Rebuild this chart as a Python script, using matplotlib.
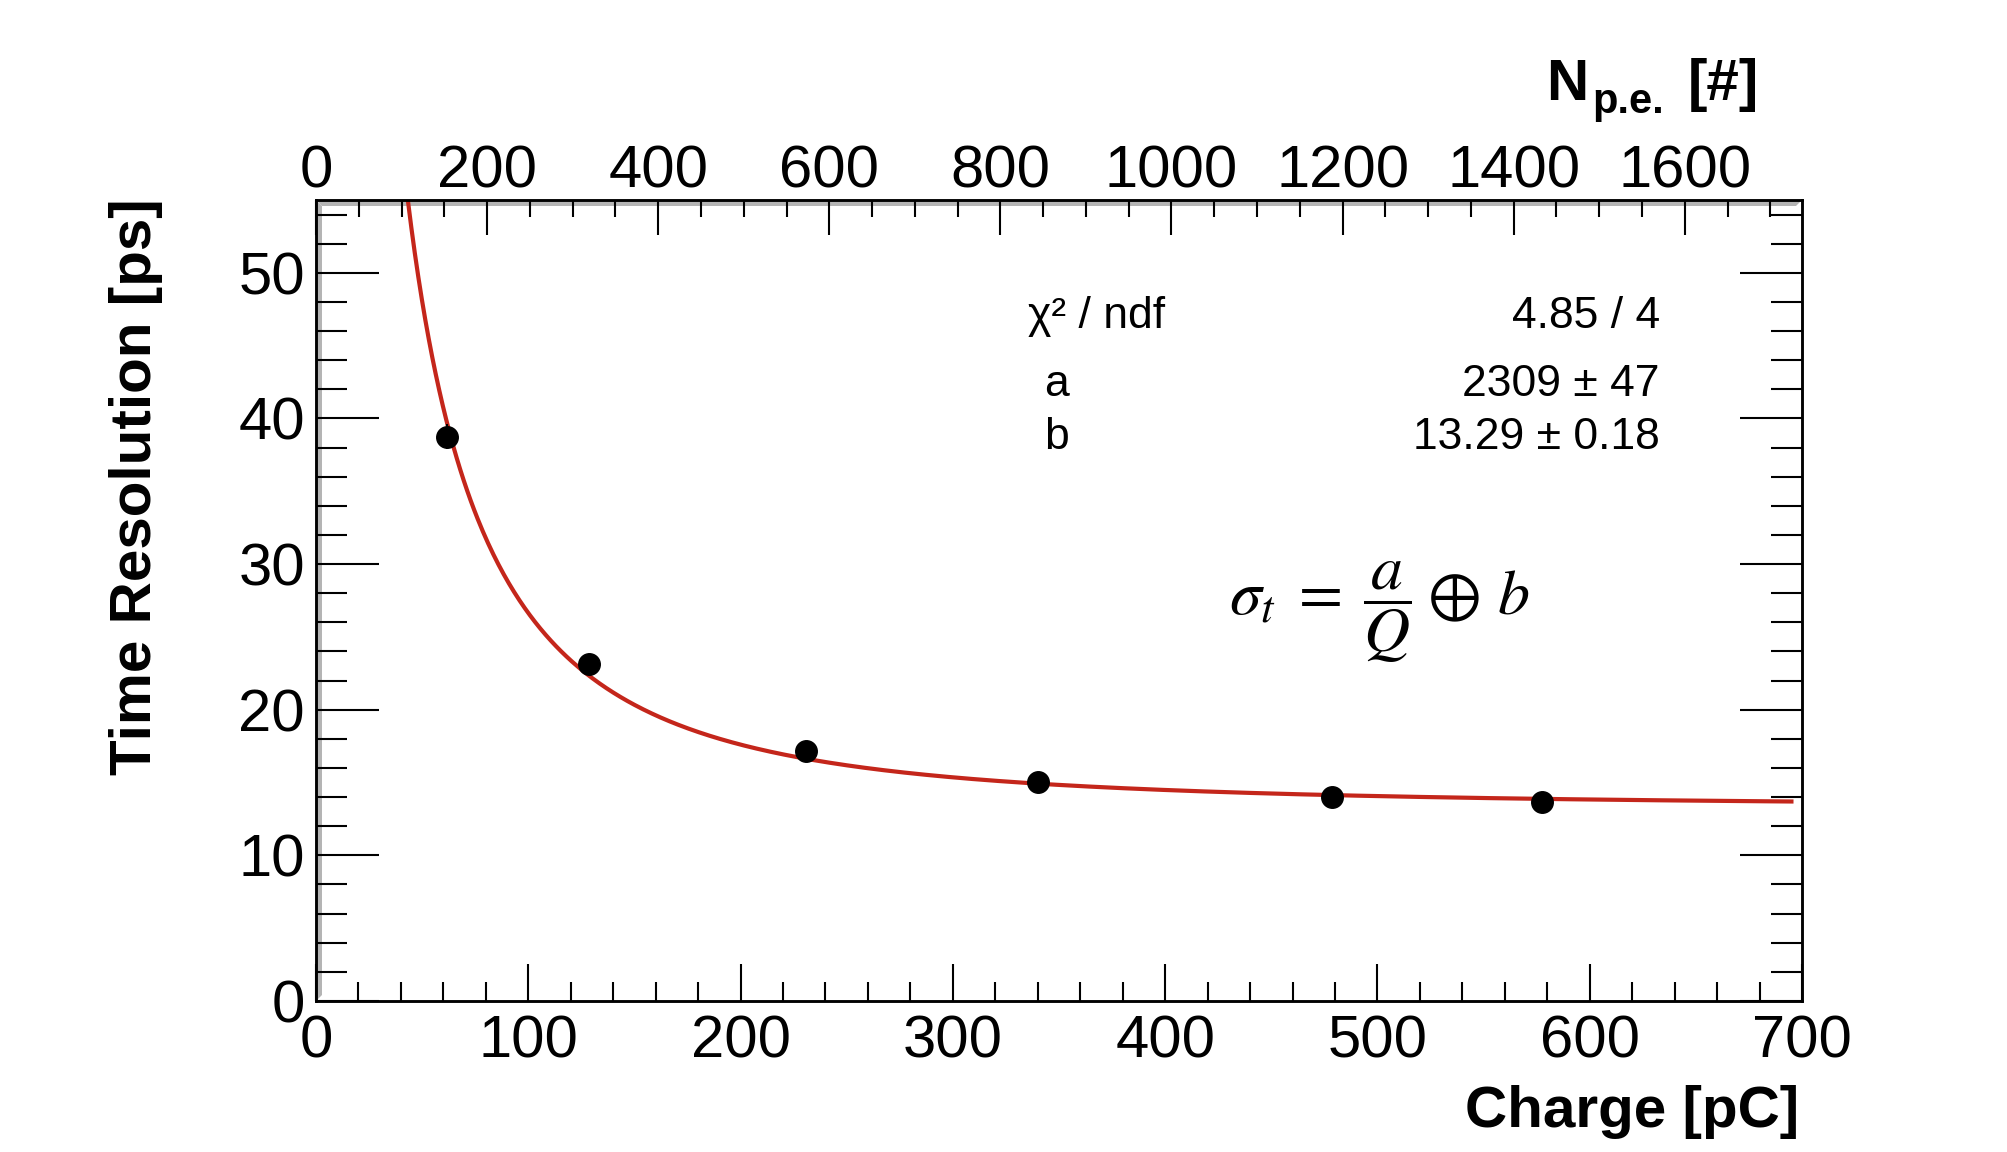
import numpy as np
import matplotlib
matplotlib.use("Agg")
import matplotlib.pyplot as plt
from matplotlib.patches import Polygon
from matplotlib.ticker import MultipleLocator

# ---------------- data ----------------
charge_pc = [61.9, 128.4, 231.0, 340.1, 478.4, 577.4]
time_res_ps = [38.75, 23.16, 17.19, 15.06, 14.03, 13.69]
time_res_err = [0.85, 0.5, 0.4, 0.35, 0.35, 0.35]

fit_a = 2309.0
fit_b = 13.29
fit_range = (40.0, 696.0)

stats_labels = ["χ² / ndf", "a", "b"]
stats_values = ["4.85 / 4", "2309 ± 47", "13.29 ± 0.18"]

x_range = (0, 700)
y_range = (0, 55)
npe_max = 1737.0  # top axis range at x = 700 pC

# ---------------- style ----------------
plt.rcParams['font.family'] = ['Liberation Sans', 'DejaVu Sans']

W, H = 2008, 1152
fig = plt.figure(figsize=(W / 100, H / 100), dpi=100)
x0, x1, y0, y1 = 316, 1802, 151, 952
ax = fig.add_axes([x0 / W, y0 / H, (x1 - x0) / W, (y1 - y0) / H])

ax.set_xlim(*x_range)
ax.set_ylim(*y_range)

TICKFS = 43
LW = 1.8

for s in ax.spines.values():
    s.set_linewidth(LW)
    s.set_zorder(5)

# bevel (gray inner frame shading)
bw = 6
wx = bw / (x1 - x0)
wy = bw / (y1 - y0)
top_band = Polygon([(0, 1), (1, 1), (1 - wx, 1 - wy), (wx, 1 - wy)], closed=True,
                   transform=ax.transAxes, facecolor='#b4b4b4', edgecolor='none', zorder=0.5)
left_band = Polygon([(0, 1), (wx, 1 - wy), (wx, wy), (0, 0)], closed=True,
                    transform=ax.transAxes, facecolor='#b4b4b4', edgecolor='none', zorder=0.5)
ax.add_patch(top_band)
ax.add_patch(left_band)

ax.xaxis.set_major_locator(MultipleLocator(100))
ax.xaxis.set_minor_locator(MultipleLocator(20))
ax.yaxis.set_major_locator(MultipleLocator(10))
ax.yaxis.set_minor_locator(MultipleLocator(2))

ax.tick_params(axis='x', which='both', direction='in', top=False, bottom=True,
               labelsize=TICKFS, width=1.5, pad=10)
ax.tick_params(axis='x', which='major', length=27)
ax.tick_params(axis='x', which='minor', length=14)
ax.tick_params(axis='y', which='both', direction='in', left=True, right=True,
               labelsize=TICKFS, width=1.5, pad=8)
ax.tick_params(axis='y', which='major', length=45)
ax.tick_params(axis='y', which='minor', length=22)

# top axis (number of photoelectrons)
ax2 = ax.twiny()
ax2.set_xlim(0, npe_max)
ax2.xaxis.set_major_locator(MultipleLocator(200))
ax2.xaxis.set_minor_locator(MultipleLocator(50))
ax2.tick_params(axis='x', which='both', direction='in', top=True, bottom=False,
                labelsize=TICKFS, width=1.5, pad=0)
ax2.tick_params(axis='x', which='major', length=25)
ax2.tick_params(axis='x', which='minor', length=12)
for s in ax2.spines.values():
    s.set_linewidth(LW)

# fit curve
q = np.linspace(fit_range[0], fit_range[1], 800)
sigma = np.sqrt((fit_a / q) ** 2 + fit_b ** 2)
ax.plot(q, sigma, color='#c4261b', lw=3.0, zorder=3, solid_capstyle='butt')

# data points
ax.errorbar(charge_pc, time_res_ps, yerr=time_res_err, fmt='o', color='black',
            ms=15.5, elinewidth=1.5, capsize=0, zorder=4)

# stats box text
stat_fs = 32
lab_x = [1028, 1044, 1044]
val_x = 1660
base_y = [328, 396, 449]
for lab, val, lx, by in zip(stats_labels, stats_values, lab_x, base_y):
    fig.text(lx / W, (H - by) / H, lab, fontsize=stat_fs, ha='left', va='baseline')
    fig.text(val_x / W, (H - by) / H, val, fontsize=stat_fs, ha='right', va='baseline')

# formula
fig.text(1229 / W, (H - 612) / H, r'$\sigma_t\;=\;\dfrac{a}{Q}\oplus\,b$', fontsize=46,
         ha='left', va='center', math_fontfamily='stix')

# axis titles
fig.text(1799 / W, (H - 1127) / H, 'Charge [pC]', fontsize=42, fontweight='bold',
         ha='right', va='baseline')
fig.text(151 / W, (H - 198) / H, 'Time Resolution [ps]', fontsize=42, fontweight='bold',
         rotation=90, rotation_mode='anchor', ha='right', va='baseline')
fig.text(1546 / W, (H - 100) / H, 'N', fontsize=42, fontweight='bold',
         ha='left', va='baseline')
fig.text(1592 / W, (H - 113) / H, 'p.e.', fontsize=30, fontweight='bold',
         ha='left', va='baseline')
fig.text(1688 / W, (H - 100) / H, '[#]', fontsize=42, fontweight='bold',
         ha='left', va='baseline')

fig.savefig('out.png', dpi=100)
